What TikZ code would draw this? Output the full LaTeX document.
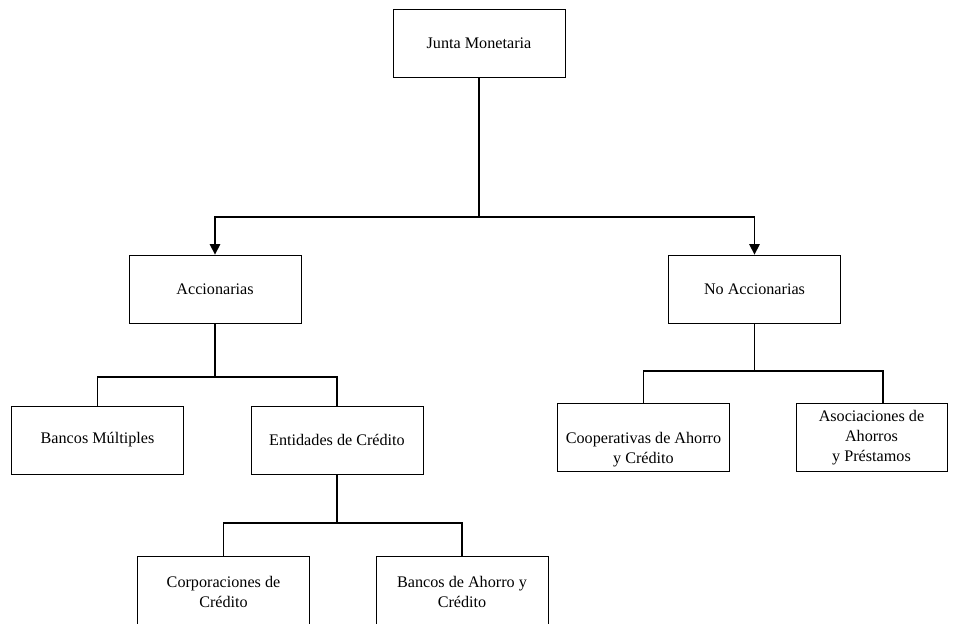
\documentclass[tikz,border=0pt]{standalone}
\usepackage{fontspec}
\setmainfont{Liberation Serif}
\usetikzlibrary{arrows.meta}

\begin{document}
\begin{tikzpicture}[
    x=0.02cm, y=-0.02cm,
    box/.style={draw, line width=0.5pt, minimum width=3.44cm,
      minimum height=1.36cm, align=center, inner sep=2pt,
      font=\fontsize{9.2}{11.4}\selectfont},
    link/.style={line width=0.9pt},
    arr/.style={link, -{Triangle[width=6pt, length=6pt]}}
  ]
  \clip (0,0) rectangle (958,623);
  \def\jy{217}
  \def\ay{377}
  \def\ny{371}
  \def\ey{523}
  % boxes
  \node[box] (junta) at (479, 43) {Junta Monetaria};
  \node[box] (acc) at (215, 289) {Accionarias};
  \node[box] (noacc) at (754.5, 289) {No Accionarias};
  \node[box] (bancos) at (97.5, 440) {Bancos Múltiples};
  \node[box] (entidades) at (337, 440) {Entidades de Crédito};
  \node[box] (coop) at (643.5, 437.5)
    {\rule{0pt}{0.7cm}Cooperativas de Ahorro\\ y Crédito};
  \node[box, minimum width=3.02cm] (asoc) at (871.5, 437.5)
    {Asociaciones de\\ Ahorros\\ y Préstamos};
  \node[box, minimum height=1.44cm] (corp) at (223.5, 592)
    {Corporaciones de\\ Crédito};
  \node[box, minimum height=1.44cm] (ahorro) at (462, 592)
    {Bancos de Ahorro y\\ Crédito};
  % connectors
  \draw[link]
    (junta.south) -- (junta.south |- 0, \jy) coordinate (j split)
  ;
  \draw[arr] (j split) -| (acc.north);
  \draw[arr] (j split) -| (noacc.north);
  \draw[link]
    (acc.south) -- (acc.south |- 0, \ay) coordinate (a split)
    (a split) -| (bancos.north)
    (a split) -| (entidades.north)
  ;
  \draw[link]
    (noacc.south) -- (noacc.south |- 0, \ny) coordinate (n split)
    (n split) -| (coop.north)
    (n split) -| ([xshift=0.23cm]asoc.north)
  ;
  \draw[link]
    (entidades.south) -- (entidades.south |- 0, \ey) coordinate (e split)
    (e split) -| (corp.north)
    (e split) -| (ahorro.north)
  ;
\end{tikzpicture}
\end{document}
